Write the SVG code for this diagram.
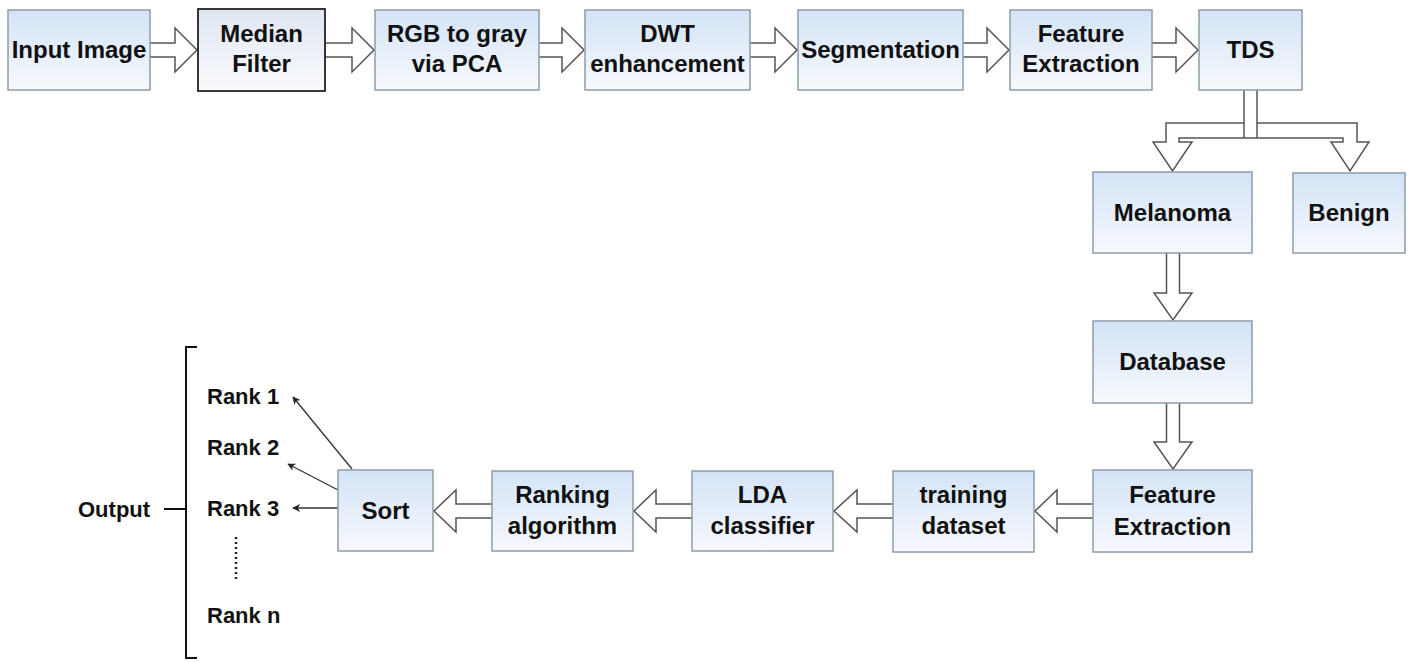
<svg xmlns="http://www.w3.org/2000/svg" width="1408" height="662" viewBox="0 0 1408 662">
<defs>
<linearGradient id="g" x1="0" y1="0" x2="0" y2="1">
<stop offset="0" stop-color="#d3e3f6"/>
<stop offset="1" stop-color="#f7f9fd"/>
</linearGradient>
<linearGradient id="g2" x1="0" y1="0" x2="0" y2="1">
<stop offset="0" stop-color="#dfe6f2"/>
<stop offset="1" stop-color="#f9fafc"/>
</linearGradient>
<marker id="ah" viewBox="0 0 10 10" refX="9" refY="5" markerWidth="8" markerHeight="8" markerUnits="userSpaceOnUse" orient="auto">
<path d="M0,0 L10,5 L0,10 L3,5 Z" fill="#222"/>
</marker>
<style>
.box{fill:url(#g);stroke:#8e9cab;stroke-width:1.5}
.dark{fill:url(#g2);stroke:#222;stroke-width:1.8}
.t{font-family:"Liberation Sans",Arial,sans-serif;font-weight:bold;font-size:24px;fill:#111;text-anchor:middle}
.r{font-family:"Liberation Sans",Arial,sans-serif;font-weight:bold;font-size:22px;fill:#111}
.ba{fill:#fff;stroke:#555;stroke-width:1.5;stroke-linejoin:miter}
.ln{fill:none;stroke:#333;stroke-width:1.3}
.br{fill:none;stroke:#111;stroke-width:2}
</style>
</defs>
<rect width="1408" height="662" fill="#fff"/>

<g id="connectors">
<path class="ba" d="M150,43 L175,43 L175,28 L197,50 L175,72 L175,57 L150,57"/>
<path class="ba" d="M325,43 L352,43 L352,28 L374,50 L352,72 L352,57 L325,57"/>
<path class="ba" d="M539,43 L562,43 L562,28 L584,50 L562,72 L562,57 L539,57"/>
<path class="ba" d="M750,43 L775,43 L775,28 L797,50 L775,72 L775,57 L750,57"/>
<path class="ba" d="M963,43 L987,43 L987,28 L1009,50 L987,72 L987,57 L963,57"/>
<path class="ba" d="M1152,43 L1176,43 L1176,28 L1198,50 L1176,72 L1176,57 L1152,57"/>
<path class="ba" d="M1244,90 L1244,123 L1166,123 L1166,142 L1153,142 L1172.5,171 L1192,142 L1179,142 L1179,138 L1343,138 L1343,142 L1331,142 L1350,171 L1369,142 L1357,142 L1357,123 L1257,123 L1257,90"/>
<path class="ln" d="M1244,123 L1244,138 M1257,123 L1257,138" style="stroke:#555;stroke-width:1.5"/>
<path class="ba" d="M1166.5,253 L1166.5,293 L1154,293 L1173,320 L1192,293 L1179.5,293 L1179.5,253"/>
<path class="ba" d="M1166.5,403 L1166.5,442 L1154,442 L1173,469 L1192,442 L1179.5,442 L1179.5,403"/>
<path class="ba" d="M1093,504 L1057,504 L1057,490 L1035,511 L1057,532 L1057,518 L1093,518"/>
<path class="ba" d="M893,504 L857,504 L857,490 L834,511 L857,532 L857,518 L893,518"/>
<path class="ba" d="M692,504 L656,504 L656,490 L634,511 L656,532 L656,518 L692,518"/>
<path class="ba" d="M492,504 L456,504 L456,490 L434,511 L456,532 L456,518 L492,518"/>
<line class="ln" x1="352" y1="469" x2="293" y2="397" marker-end="url(#ah)"/>
<line class="ln" x1="338" y1="490" x2="288" y2="464" marker-end="url(#ah)"/>
<line class="ln" x1="338" y1="508" x2="293" y2="508" marker-end="url(#ah)"/>
</g>

<g id="n-input"><rect class="box" x="8" y="10" width="142" height="80"/><text class="t" x="79" y="58">Input Image</text></g>
<g id="n-median"><rect class="dark" x="198" y="9" width="127" height="82"/><text class="t" x="261.5" y="42">Median</text><text class="t" x="261.5" y="72">Filter</text></g>
<g id="n-rgb"><rect class="box" x="375" y="10" width="164" height="80"/><text class="t" x="457" y="42">RGB to gray</text><text class="t" x="457" y="72">via PCA</text></g>
<g id="n-dwt"><rect class="box" x="585" y="10" width="165" height="80"/><text class="t" x="667.5" y="42">DWT</text><text class="t" x="667.5" y="72">enhancement</text></g>
<g id="n-seg"><rect class="box" x="798" y="10" width="165" height="80"/><text class="t" x="880.5" y="58">Segmentation</text></g>
<g id="n-fe1"><rect class="box" x="1010" y="10" width="142" height="80"/><text class="t" x="1081" y="42">Feature</text><text class="t" x="1081" y="72">Extraction</text></g>
<g id="n-tds"><rect class="box" x="1199" y="10" width="103" height="80"/><text class="t" x="1250.5" y="58">TDS</text></g>
<g id="n-melanoma"><rect class="box" x="1093" y="172" width="159" height="81"/><text class="t" x="1172.5" y="221">Melanoma</text></g>
<g id="n-benign"><rect class="box" x="1293" y="173" width="112" height="80"/><text class="t" x="1349" y="221">Benign</text></g>
<g id="n-database"><rect class="box" x="1093" y="321" width="159" height="82"/><text class="t" x="1172.5" y="370">Database</text></g>
<g id="n-fe2"><rect class="box" x="1093" y="470" width="159" height="82"/><text class="t" x="1172.5" y="503">Feature</text><text class="t" x="1172.5" y="535">Extraction</text></g>
<g id="n-training"><rect class="box" x="893" y="471" width="141" height="81"/><text class="t" x="963.5" y="503">training</text><text class="t" x="963.5" y="534">dataset</text></g>
<g id="n-lda"><rect class="box" x="692" y="471" width="141" height="80"/><text class="t" x="762.5" y="503">LDA</text><text class="t" x="762.5" y="534">classifier</text></g>
<g id="n-ranking"><rect class="box" x="492" y="471" width="141" height="80"/><text class="t" x="562.5" y="503">Ranking</text><text class="t" x="562.5" y="534">algorithm</text></g>
<g id="n-sort"><rect class="box" x="338" y="470" width="95" height="81"/><text class="t" x="385.5" y="519">Sort</text></g>

<g id="n-output">
<path class="br" d="M197,347 L186,347 L186,658 L197,658"/>
<line class="br" x1="164" y1="509" x2="186" y2="509"/>
<text class="r" x="78" y="517">Output</text>
<text class="r" x="207" y="404">Rank 1</text>
<text class="r" x="207" y="455">Rank 2</text>
<text class="r" x="207" y="516">Rank 3</text>
<line x1="236" y1="537" x2="236" y2="579" stroke="#222" stroke-width="2.5" stroke-dasharray="2,3"/>
<text class="r" x="207" y="623">Rank n</text>
</g>
</svg>
